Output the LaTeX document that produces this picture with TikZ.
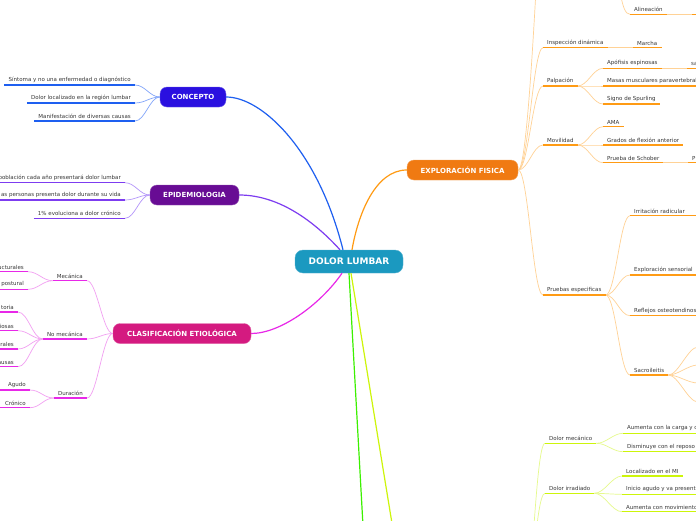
\documentclass[tikz,border=0pt]{standalone}
\usepackage{fontspec}
\setmainfont{DejaVu Sans}
\usepackage{xcolor}
\definecolor{hubfill}{RGB}{27,153,192}
\definecolor{conceptfill}{RGB}{42,16,224}
\definecolor{conceptline}{RGB}{30,95,240}
\definecolor{conceptsoft}{RGB}{130,165,250}
\definecolor{epifill}{RGB}{104,12,148}
\definecolor{epiline}{RGB}{125,60,240}
\definecolor{episoft}{RGB}{180,150,250}
\definecolor{clasfill}{RGB}{212,26,128}
\definecolor{clasline}{RGB}{232,40,232}
\definecolor{classoft}{RGB}{242,160,242}
\definecolor{explfill}{RGB}{240,122,18}
\definecolor{explline}{RGB}{255,155,20}
\definecolor{explsoft}{RGB}{255,210,150}
\definecolor{greenline}{RGB}{60,240,0}
\definecolor{yelline}{RGB}{205,245,10}
\definecolor{yelsoft}{RGB}{230,250,140}
\definecolor{ink}{RGB}{55,55,55}

\begin{document}
\begin{tikzpicture}[
    x=1pt, y=-1pt,
    hub/.style={rounded corners=8pt, fill=hubfill, draw=hubfill!75!white, text=white, minimum width=108pt, minimum height=23pt, font=\bfseries\fontsize{9}{10}\selectfont},
    topic/.style={rounded corners=7pt, minimum height=20pt, text=white, font=\bfseries\fontsize{7}{8}\selectfont},
    leaf/.style={inner xsep=4pt, inner ysep=2.3pt, text=ink, font=\fontsize{5.5}{6.5}\selectfont},
    lleaf/.style={leaf, anchor=south east},
    rleaf/.style={leaf, anchor=south west},
    branch/.style={line width=1.2pt},
    twig/.style={line width=0.7pt},
    uline/.style={line width=1.5pt},
    rlink/.style={out=0, in=180, out distance=10pt, in distance=10pt},
    llink/.style={out=180, in=0, out distance=10pt, in distance=10pt}
  ]
    \fill[white] (0,0) rectangle (696,520);
    \useasboundingbox (0,0) rectangle (696,520);
    \clip (0,0) rectangle (696,520);

    % centre and main topics
    \node[hub] (dolor) at (349,261.5) {DOLOR LUMBAR};
    \node[topic, fill=conceptfill, draw=conceptfill!70!white, minimum width=66pt] (concepto) at (193,97) {CONCEPTO};
    \node[topic, fill=epifill, draw=epifill!70!white, minimum width=89pt] (epidem) at (194.5,195) {EPIDEMIOLOGIA};
    \node[topic, fill=clasfill, draw=clasfill!70!white, minimum width=138pt] (clasif) at (182,333.5) {CLASIFICACIÓN ETIOLÓGICA};
    \node[topic, fill=explfill, draw=explfill!70!white, minimum width=111pt] (explor) at (462.5,170) {EXPLORACIÓN FISICA};
    \coordinate (gfar) at (366,580);
    \coordinate (yfar) at (398,560);

    % concepto
    \node[lleaf] (sintoma) at (135,85) {Síntoma y no una enfermedad o diagnóstico};
    \node[lleaf] (localiz) at (135,103) {Dolor localizado en la región lumbar};
    \node[lleaf] (manif) at (135,121) {Manifestación de diversas causas};

    % epidemiologia
    \node[lleaf] (poblac) at (125,182.7) {población cada año presentará dolor lumbar};
    \node[lleaf] (personas) at (125,200) {as personas presenta dolor durante su vida};
    \node[lleaf] (cronico) at (125,218.3) {1\% evoluciona a dolor crónico};

    % clasificacion
    \node[lleaf] (mecanica) at (87,280.7) {Mecánica};
    \node[lleaf] (nomec) at (87,339) {No mecánica};
    \node[lleaf] (duracion) at (87,398) {Duración};
    \node[lleaf] (estruct) at (28,271.7) {ucturales};
    \node[lleaf] (postural) at (28,289.3) {postural};
    \node[lleaf] (ntoria) at (18,312) {toria};
    \node[lleaf] (niosas) at (18,330.7) {iosas};
    \node[lleaf] (nrales) at (18,349) {rales};
    \node[lleaf] (nausas) at (18,366.7) {ausas};
    \node[lleaf] (agudo) at (30,390) {Agudo};
    \node[lleaf] (cronic) at (30,407.7) {Crónico};

    % exploracion
    \node[rleaf] (alinea) at (630,14.3) {Alineación};
    \node[rleaf] (inspdin) at (543,47.7) {Inspección dinámica};
    \node[rleaf] (marcha) at (633,47.7) {Marcha};
    \node[rleaf] (palp) at (543,86) {Palpación};
    \node[rleaf] (apofisis) at (603,68.3) {Apófisis espinosas};
    \node[rleaf] (apochild) at (687,68.3) {sa};
    \node[rleaf] (masas) at (603,86) {Masas musculares paravertebrales};
    \node[rleaf] (spurling) at (603,104) {Signo de Spurling};
    \node[rleaf] (movil) at (543,145) {Movilidad};
    \node[rleaf] (ama) at (603,126.7) {AMA};
    \node[rleaf] (flexion) at (603,145) {Grados de flexión anterior};
    \node[rleaf] (schober) at (603,162.7) {Prueba de Schober};
    \node[rleaf] (schochild) at (688,162.7) {P};
    \node[rleaf] (pruebas) at (543,295) {Pruebas especificas};
    \node[rleaf] (irrit) at (630,215.7) {Irritación radicular};
    \node[rleaf] (sensor) at (630,275) {Exploración sensorial};
    \node[rleaf] (reflejos) at (630,315.7) {Reflejos osteotendinosos};
    \node[rleaf] (sacro) at (630,375) {Sacroileitis};
    \coordinate (inspest) at (543,-120);
    \coordinate (alinroot) at (612,-20);
    \coordinate (alinkid) at (692,14.3);
    \foreach \y [count=\i] in {347,365,383,402}
      \coordinate (sacrokid\i) at (698,\y);

    % dolor mecanico / irradiado
    \coordinate (ylow) at (522,620);
    \node[rleaf] (dmec) at (545,443.3) {Dolor mecánico};
    \node[rleaf] (carga) at (623,433.3) {Aumenta con la carga y c};
    \node[rleaf] (reposo) at (623,451.7) {Disminuye con el reposo};
    \node[rleaf] (dirr) at (545,493.3) {Dolor irradiado};
    \node[rleaf] (locmi) at (622,476) {Localizado en el MI};
    \node[rleaf] (inicio) at (622,494.3) {Inicio agudo y va present};
    \node[rleaf] (movim) at (622,511.7) {Aumenta con movimiento};

    % main branches
    \draw[branch, conceptline] ([xshift=-6pt]dolor.north) .. controls (318,150) and (262,97) .. (concepto.east);
    \draw[branch, epiline] ([xshift=-9pt]dolor.north) .. controls (322,230) and (285,195) .. (epidem.east);
    \draw[branch, explline] ([xshift=3pt]dolor.north) .. controls (358,215) and (375,170) .. (explor.west);
    \draw[branch, clasline] ([xshift=-7pt]dolor.south) .. controls (320,305) and (280,333.5) .. (clasif.east);
    \draw[branch, greenline] (dolor.south) -- (gfar);
    \draw[branch, yelline] ([xshift=2pt]dolor.south) -- (yfar);

    % left links
    \foreach \n in {sintoma,localiz,manif}
      \draw[twig, conceptsoft] (concepto.west) to[llink] (\n.south east);
    \foreach \n in {poblac,personas,cronico}
      \draw[twig, episoft] (epidem.west) to[llink] (\n.south east);
    \foreach \n in {mecanica,nomec,duracion}
      \draw[twig, classoft] (clasif.west) to[llink] (\n.south east);
    \foreach \n in {estruct,postural}
      \draw[twig, classoft] (mecanica.south west) to[llink] (\n.south east);
    \foreach \n in {ntoria,niosas,nrales,nausas}
      \draw[twig, classoft] (nomec.south west) to[llink] (\n.south east);
    \foreach \n in {agudo,cronic}
      \draw[twig, classoft] (duracion.south west) to[llink] (\n.south east);

    % right links
    \foreach \n in {inspdin,palp,movil,pruebas}
      \draw[twig, explsoft] (explor.east) to[rlink] (\n.south west);
    \draw[twig, explsoft] (explor.east) to[rlink, out distance=12pt, in distance=3pt] (inspest);
    \draw[twig, explsoft] (alinroot) to[rlink] (alinea.south west);
    \draw[twig, explsoft] (alinea.south east) -- (alinkid);
    \draw[twig, explsoft] (inspdin.south east) -- (marcha.south west);
    \foreach \n in {apofisis,masas,spurling}
      \draw[twig, explsoft] (palp.south east) to[rlink] (\n.south west);
    \draw[twig, explsoft] (apofisis.south east) -- (apochild.south west);
    \foreach \n in {ama,flexion,schober}
      \draw[twig, explsoft] (movil.south east) to[rlink] (\n.south west);
    \draw[twig, explsoft] (schober.south east) -- (schochild.south west);
    \foreach \n in {irrit,sensor,reflejos,sacro}
      \draw[twig, explsoft] (pruebas.south east) to[rlink] (\n.south west);
    \foreach \i in {1,...,4}
      \draw[twig, explsoft] (sacro.south east) to[rlink] (sacrokid\i);
    \foreach \n in {dmec,dirr}
      \draw[twig, yelsoft] (ylow) to[rlink] (\n.south west);
    \foreach \n in {carga,reposo}
      \draw[twig, yelsoft] (dmec.south east) to[rlink] (\n.south west);
    \foreach \n in {locmi,inicio,movim}
      \draw[twig, yelsoft] (dirr.south east) to[rlink] (\n.south west);

    % underlines
    \foreach \n in {sintoma,localiz,manif}
      \draw[uline, conceptline] (\n.south west) -- (\n.south east);
    \foreach \n in {poblac,personas,cronico}
      \draw[uline, epiline] (\n.south west) -- (\n.south east);
    \foreach \n in {poblac,personas}
      \draw[uline, epiline] (\n.south east) -- ++(-140,0);
    \foreach \n in {mecanica,nomec,duracion,estruct,postural,ntoria,niosas,nrales,nausas,agudo,cronic}
      \draw[uline, clasline] (\n.south west) -- (\n.south east);
    \foreach \n in {estruct,postural,ntoria,niosas,nrales,nausas,agudo,cronic}
      \draw[uline, clasline] (\n.south east) -- ++(-40,0);
    \foreach \n in {alinea,inspdin,marcha,palp,apofisis,apochild,masas,spurling,movil,ama,flexion,schober,schochild,pruebas,irrit,sensor,reflejos,sacro}
      \draw[uline, explline] (\n.south west) -- (\n.south east);
    \foreach \n in {apochild,masas,schochild,irrit,sensor,reflejos}
      \draw[uline, explline] (\n.south west) -- ++(90,0);
    \draw[uline, explline] (alinkid) -- ++(20,0);
    \foreach \n in {dmec,carga,reposo,dirr,locmi,inicio,movim}
      \draw[uline, yelline] (\n.south west) -- (\n.south east);
    \foreach \n in {carga,reposo,inicio,movim}
      \draw[uline, yelline] (\n.south west) -- ++(90,0);
  \end{tikzpicture}
\end{document}
